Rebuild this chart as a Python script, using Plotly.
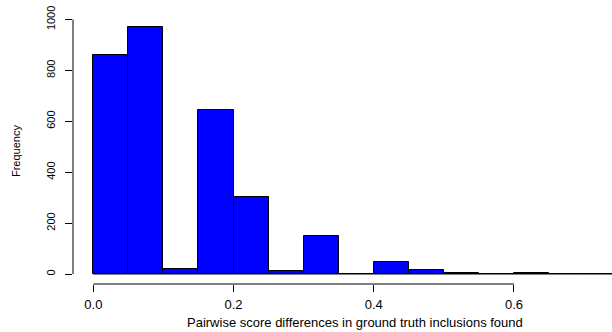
import plotly.graph_objects as go

# Histogram of pairwise score differences (bin width 0.05)
bin_starts = [0.00, 0.05, 0.10, 0.15, 0.20, 0.25, 0.30, 0.35,
              0.40, 0.45, 0.50, 0.55, 0.60, 0.65, 0.70]
counts = [859, 969, 21, 645, 301, 10, 148, 1, 46, 16, 2, 1, 2, 0, 1]
bin_width = 0.05

x_ticks = [0.0, 0.2, 0.4, 0.6]
x_tick_labels = ["0.0", "0.2", "0.4", "0.6"]
y_ticks = [0, 200, 400, 600, 800, 1000]
y_tick_labels = ["0", "200", "400", "600", "800", "1000"]

x_title = "Pairwise score differences in ground truth inclusions found"
y_title = "Frequency"

FONT = "Liberation Sans, Arial, Helvetica, sans-serif"

centers = [b + bin_width / 2 for b in bin_starts]

fig = go.Figure()
fig.add_trace(go.Bar(
    x=centers,
    y=counts,
    width=[bin_width] * len(counts),
    marker=dict(color="#0000FF", line=dict(color="black", width=1)),
    hoverinfo="x+y",
))

shapes = [
    # baseline under empty bins
    dict(type="line", xref="x", yref="y",
         x0=bin_starts[0], x1=bin_starts[-1] + bin_width, y0=0, y1=0,
         line=dict(color="black", width=1), layer="below"),
    # base-graphics style axis lines spanning first to last tick
    dict(type="line", xref="x", yref="paper",
         x0=x_ticks[0], x1=x_ticks[-1], y0=0, y1=0,
         line=dict(color="black", width=1)),
    dict(type="line", xref="paper", yref="y",
         x0=0, x1=0, y0=y_ticks[0], y1=y_ticks[-1],
         line=dict(color="black", width=1)),
]

fig.update_layout(
    width=612, height=332,
    margin=dict(l=73, r=0, t=9, b=48, pad=0),
    paper_bgcolor="white", plot_bgcolor="white",
    showlegend=False,
    bargap=0,
    shapes=shapes,
    font=dict(family=FONT, color="black"),
    xaxis=dict(
        range=[-0.029, 0.7399],
        tickvals=x_ticks, ticktext=x_tick_labels,
        ticks="outside", ticklen=7, tickwidth=1, tickcolor="black",
        showgrid=False, zeroline=False, showline=False,
        tickfont=dict(size=13, family=FONT, color="black"),
        ticklabelstandoff=1,
    ),
    yaxis=dict(
        range=[-39.3, 1041.3],
        tickvals=y_ticks, ticktext=y_tick_labels,
        ticks="outside", ticklen=7, tickwidth=1, tickcolor="black",
        tickangle=-90,
        showgrid=False, zeroline=False, showline=False,
        tickfont=dict(size=11, family=FONT, color="black"),
        ticklabelstandoff=6,
    ),
    annotations=[
        dict(text=x_title, xref="paper", yref="paper",
             x=(355 - 73) / 539, y=0, xanchor="center", yanchor="top",
             yshift=-29, showarrow=False,
             font=dict(size=13, family=FONT, color="black")),
        dict(text=y_title, xref="paper", yref="paper",
             x=0, y=0.4836, xanchor="center", yanchor="middle",
             xshift=-57, textangle=-90, showarrow=False,
             font=dict(size=11, family=FONT, color="black")),
    ],
)

fig.write_html("out.html")
